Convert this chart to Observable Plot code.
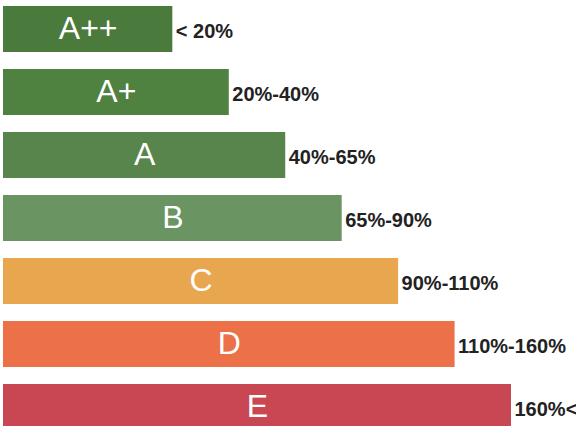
<!DOCTYPE html>
<html>
<head>
<meta charset="utf-8">
<script src="https://cdn.jsdelivr.net/npm/d3@7"></script>
<script src="https://cdn.jsdelivr.net/npm/@observablehq/plot@0.6"></script>
<style>
  html, body { margin: 0; padding: 0; background: #fff; overflow: hidden; }
  #chart { width: 576px; height: 426px; overflow: hidden; }
</style>
</head>
<body>
<div id="chart"></div>
<script>
const classes = ["A++", "A+", "A", "B", "C", "D", "E"];
const lengths = [3, 4, 5, 6, 7, 8, 9];
const ranges = ["< 20%", "20%-40%", "40%-65%", "65%-90%", "90%-110%", "110%-160%", "160%<"];
const colors = ["#4b7b3c", "#4f8141", "#58854b", "#6a9461", "#e8a64f", "#ec7048", "#c84752"];

const data = classes.map((c, i) => ({cls: c, len: lengths[i], range: ranges[i]}));

const chart = Plot.plot({
  width: 576,
  height: 426,
  marginLeft: 0, marginRight: 0, marginTop: 0, marginBottom: 0,
  style: {background: "#fff", fontFamily: "'Liberation Sans', Arial, sans-serif"},
  x: {domain: [0, 9], range: [3, 511], axis: null},
  y: {domain: classes, range: [5, 431], paddingInner: 0.274, paddingOuter: 0, axis: null},
  color: {domain: classes, range: colors},
  marks: [
    Plot.barX(data, {x: "len", y: "cls", fill: "cls"}),
    Plot.text(data, {x: d => d.len / 2, y: "cls", text: "cls", fill: "white", fontSize: 32, dy: -1}),
    Plot.text(data, {x: "len", y: "cls", text: "range", fill: "#222", fontSize: 20, fontWeight: "bold", textAnchor: "start", dx: 3, dy: 2, letterSpacing: -0.3})
  ]
});
document.getElementById("chart").appendChild(chart);
</script>
</body>
</html>
